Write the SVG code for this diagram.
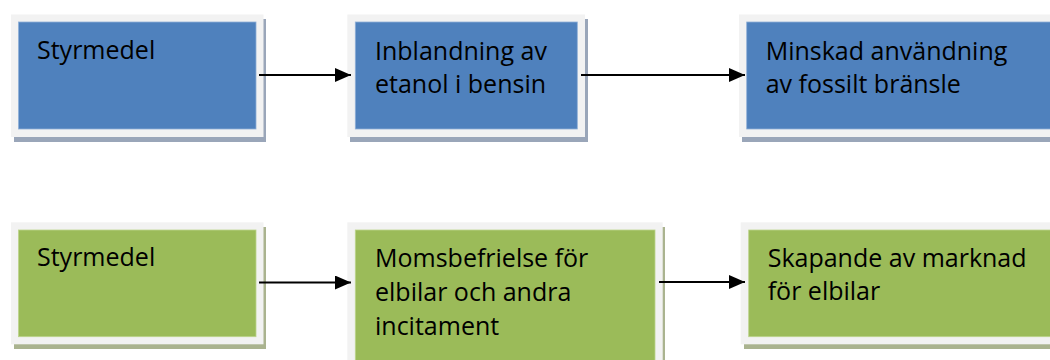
<svg xmlns="http://www.w3.org/2000/svg" width="1050" height="360" viewBox="0 0 1050 360">
  <defs>
    <style>
      .frame { fill: #f2f2f2; }
      .shadow-blue { fill: #9aa6b9; }
      .shadow-green { fill: #aab38f; }
      .blue { fill: #4f81bd; stroke: #8fb0d8; stroke-width: 0.8; }
      .green { fill: #9bbb59; stroke: #bcd48c; stroke-width: 0.8; }
      .label { font-family: "Open Sans", "Noto Sans", sans-serif; font-size: 25px; fill: #000; }
      .conn { stroke: #000; stroke-width: 2; fill: none; marker-end: url(#arrow); }
    </style>
    <marker id="arrow" viewBox="0 0 16 14" refX="16" refY="7" markerWidth="16" markerHeight="14" markerUnits="userSpaceOnUse" orient="auto">
      <path d="M0,0 L16,7 L0,14 z" fill="#000"/>
    </marker>
  </defs>

  <rect width="1050" height="360" fill="#fff"/>

  <!-- top row -->
  <g id="node-styrmedel-1">
    <rect class="shadow-blue" x="14" y="19" width="252" height="123"/>
    <rect class="frame" x="11" y="14.5" width="252.5" height="122.5"/>
    <rect class="blue" x="18.5" y="22" width="237.5" height="107"/>
    <text class="label" x="37" y="59">Styrmedel</text>
  </g>

  <g id="node-inblandning">
    <rect class="shadow-blue" x="350" y="19" width="238" height="123"/>
    <rect class="frame" x="347.3" y="14.5" width="237.7" height="122.5"/>
    <rect class="blue" x="355.3" y="22" width="222" height="107"/>
    <text class="label" x="375" y="60">Inblandning av</text>
    <text class="label" x="375" y="93">etanol i bensin</text>
  </g>

  <g id="node-minskad">
    <rect class="shadow-blue" x="742" y="19" width="330" height="123"/>
    <rect class="frame" x="739" y="14.5" width="330" height="122.5"/>
    <rect class="blue" x="746.7" y="22" width="320" height="107"/>
    <text class="label" x="765.7" y="60">Minskad användning</text>
    <text class="label" x="765.7" y="93">av fossilt bränsle</text>
  </g>

  <!-- bottom row -->
  <g id="node-styrmedel-2">
    <rect class="shadow-green" x="14" y="227" width="252" height="122"/>
    <rect class="frame" x="11" y="222.3" width="252.5" height="122"/>
    <rect class="green" x="18.5" y="230" width="237.5" height="106.7"/>
    <text class="label" x="37" y="266">Styrmedel</text>
  </g>

  <g id="node-momsbefrielse">
    <rect class="shadow-green" x="350" y="227" width="315" height="140"/>
    <rect class="frame" x="347.3" y="222.3" width="315.4" height="140"/>
    <rect class="green" x="355.3" y="230" width="299.7" height="135"/>
    <text class="label" x="375" y="267">Momsbefrielse för</text>
    <text class="label" x="375" y="301">elbilar och andra</text>
    <text class="label" x="375" y="335">incitament</text>
  </g>

  <g id="node-skapande">
    <rect class="shadow-green" x="744" y="227" width="330" height="122"/>
    <rect class="frame" x="740.7" y="222.3" width="330" height="122"/>
    <rect class="green" x="748.7" y="230" width="320" height="106.7"/>
    <text class="label" x="767.7" y="267">Skapande av marknad</text>
    <text class="label" x="767.7" y="300">för elbilar</text>
  </g>

  <!-- connectors -->
  <g id="connectors">
    <line class="conn" x1="259" y1="75" x2="351" y2="75"/>
    <line class="conn" x1="581" y1="75" x2="745" y2="75"/>
    <line class="conn" x1="259" y1="282.5" x2="351" y2="282.5"/>
    <line class="conn" x1="659" y1="282" x2="745" y2="282"/>
  </g>
</svg>
